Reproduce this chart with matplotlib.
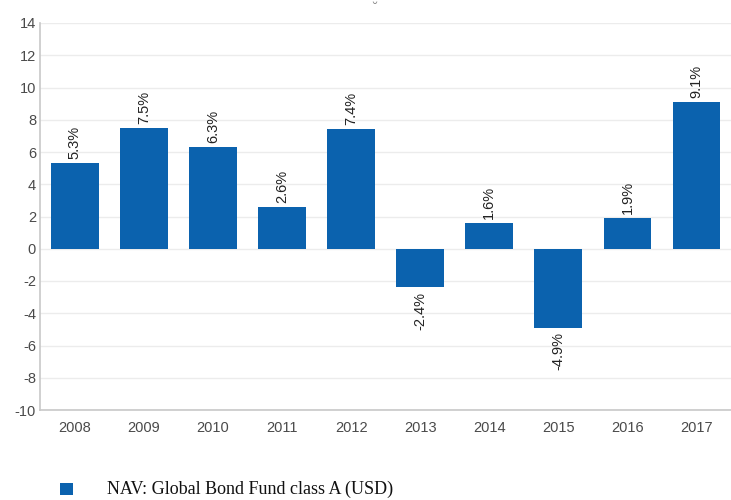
import matplotlib
matplotlib.use("Agg")
import matplotlib.pyplot as plt
from matplotlib.patches import Rectangle

years = ["2008", "2009", "2010", "2011", "2012", "2013", "2014", "2015", "2016", "2017"]
returns = [5.3, 7.5, 6.3, 2.6, 7.4, -2.4, 1.6, -4.9, 1.9, 9.1]
y_ticks = list(range(-10, 15, 2))
series_name = "NAV: Global Bond Fund class A (USD)"

bar_color = "#0b62ae"
axis_grey = "#c8c8c8"

plt.rcParams["font.family"] = ["Liberation Sans", "DejaVu Sans"]
plt.rcParams["axes.unicode_minus"] = False

fig = plt.figure(figsize=(7.31, 5.0), dpi=100)
ax = fig.add_axes([0.055, 0.18, 0.945, 0.774])

x = range(len(years))
ax.bar(x, returns, width=0.69, color=bar_color, zorder=3)

for xi, v in zip(x, returns):
    if v >= 0:
        ax.annotate(f"{v:.1f}%", (xi, v), xytext=(0, 3), textcoords="offset points",
                    rotation=90, ha="center", va="bottom", fontsize=10.5, color="#222222")
    else:
        ax.annotate(f"{v:.1f}%", (xi, v), xytext=(0, -3), textcoords="offset points",
                    rotation=90, ha="center", va="top", fontsize=10.5, color="#222222")

ax.set_xlim(-0.5, len(years) - 0.5)
ax.set_ylim(-10, 14)
ax.set_yticks(y_ticks)
ax.set_xticks(list(x))
ax.set_xticklabels(years)
ax.tick_params(axis="both", length=0, labelsize=10.5, labelcolor="#4a4a4a")
ax.tick_params(axis="x", pad=8)
ax.tick_params(axis="y", pad=3)
ax.yaxis.grid(True, color="#ececec", linewidth=1, zorder=0)

for side in ("top", "right"):
    ax.spines[side].set_visible(False)
for side in ("left", "bottom"):
    ax.spines[side].set_color(axis_grey)
    ax.spines[side].set_linewidth(1.2)

# small stray mark above the plot area
fig.text(0.513, 0.982, "\u02d8", ha="center", va="center", fontsize=10, color="#888888")

# legend drawn as a square swatch plus serif text
fig.patches.append(Rectangle((0.082, 0.01), 0.018, 0.024, transform=fig.transFigure,
                             facecolor=bar_color, edgecolor="none"))
fig.text(0.147, 0.021, series_name, ha="left", va="center", fontsize=13,
         family="Liberation Serif", color="#111111")

fig.savefig("out.png", dpi=100)
